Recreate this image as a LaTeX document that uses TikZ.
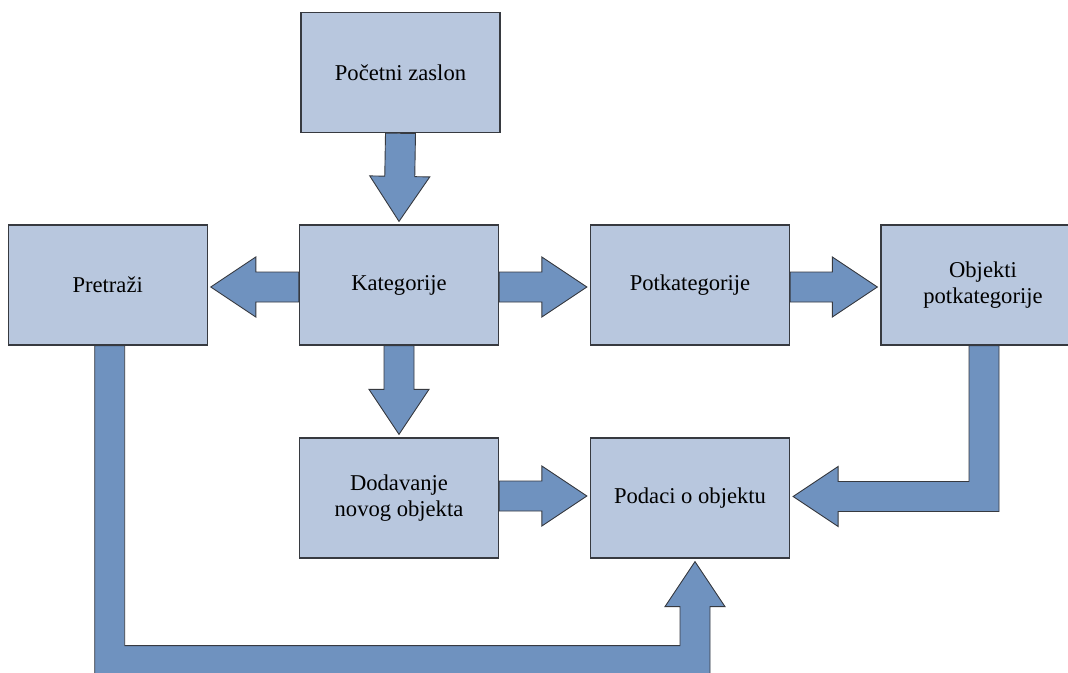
\documentclass[tikz,border=0pt]{standalone}
\usepackage{fontspec}
\setmainfont{Liberation Serif}
\usetikzlibrary{calc,backgrounds}
\definecolor{boxfill}{RGB}{184,199,222}
\definecolor{arrowfill}{RGB}{111,146,191}
\definecolor{edge}{RGB}{55,58,64}
\tikzset{
  stepbox/.style={draw=edge, line width=1.2pt, fill=boxfill, minimum width=199pt, minimum height=120pt, inner sep=0pt, align=center, font=\fontsize{22.6}{25.5}\selectfont, text=black},
  blockarr/.style={draw=edge, line width=0.9pt, fill=arrowfill, line join=miter}
}
\newcommand{\barrow}[2]{%
  \coordinate (bA) at (#1);
  \coordinate (bB) at (#2);
  \coordinate (bH) at ($(bB)!45pt!(bA)$);
  \draw[blockarr] ($(bA)!15pt!90:(bB)$) -- ($(bH)!15pt!90:(bB)$) -- ($(bH)!30pt!90:(bB)$) -- (bB)
     -- ($(bH)!30pt!-90:(bB)$) -- ($(bH)!15pt!-90:(bB)$) -- ($(bA)!15pt!-90:(bB)$) -- cycle;}
\begin{document}
\begin{tikzpicture}[x=1pt, y=-1pt]
\useasboundingbox (0,0) rectangle (1068,672);
\clip (0,0) rectangle (1068,672);
% nodes
\node[stepbox] (start) at (400.5,72.7) {Početni zaslon};
\node[stepbox] (pre) at (107.7,285) {Pretraži};
\node[stepbox] (kat) at (399,285) {Kategorije};
\node[stepbox] (pot) at (690,285) {Potkategorije};
\node[stepbox, minimum width=204pt] (obj) at (983,285) {Objekti\\potkategorije};
\node[stepbox] (dod) at (399,498) {Dodavanje\\novog objekta};
\node[stepbox] (pod) at (690,498) {Podaci o objektu};
\begin{pgfonlayer}{background}
\clip (0,0) rectangle (1068,672);
% straight block arrows
\barrow{start.south}{$(kat.north)+(0,-3)$}
\barrow{$(kat.west)+(0,2)$}{$(pre.east)+(3,2)$}
\barrow{$(kat.east)+(0,2)$}{$(pot.west)+(-3,2)$}
\barrow{$(pot.east)+(0,2)$}{$(obj.west)+(-3,2)$}
\barrow{kat.south}{$(dod.north)+(0,-3)$}
\barrow{$(dod.east)+(0,-2)$}{$(pod.west)+(-3,-2)$}
% L arrow: obj -> pod
\coordinate (o1) at ($(obj.south)+(1,0)$);
\coordinate (otip) at ($(pod.east)+(3,-1.5)$);
\coordinate (ocorner) at (o1 |- otip);
\draw[blockarr] ($(o1)+(-15,0)$) -- ($(ocorner)+(-15,-15)$) -- ($(otip)+(45,-15)$) -- ($(otip)+(45,-30)$)
  -- (otip) -- ($(otip)+(45,30)$) -- ($(otip)+(45,15)$) -- ($(ocorner)+(15,15)$) -- ($(o1)+(15,0)$) -- cycle;
% L arrow: pre -> pod
\coordinate (p1) at ($(pre.south)+(2,0)$);
\coordinate (ptip) at ($(pod.south)+(5,3)$);
\coordinate (pc1) at ($(p1)+(0,315)$);
\coordinate (pc2) at (ptip |- pc1);
\draw[blockarr] ($(p1)+(-15,0)$) -- ($(pc1)+(-15,15)$) -- ($(pc2)+(15,15)$) -- ($(ptip)+(15,45)$) -- ($(ptip)+(30,45)$)
  -- (ptip) -- ($(ptip)+(-30,45)$) -- ($(ptip)+(-15,45)$) -- ($(pc2)+(-15,-15)$) -- ($(pc1)+(15,-15)$) -- ($(p1)+(15,0)$) -- cycle;
\end{pgfonlayer}
\end{tikzpicture}
\end{document}
